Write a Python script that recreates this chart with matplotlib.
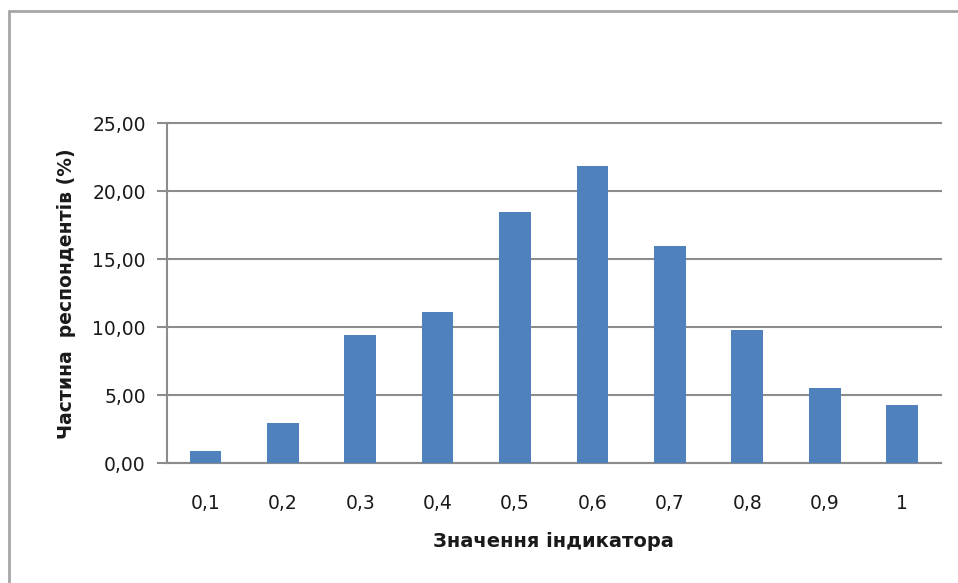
import numpy as np
import matplotlib.pyplot as plt
from matplotlib.patches import Rectangle

# Share of respondents by indicator value
categories = ['0,1', '0,2', '0,3', '0,4', '0,5', '0,6', '0,7', '0,8', '0,9', '1']
shares = [0.93, 3.00, 9.46, 11.10, 18.46, 21.84, 15.96, 9.78, 5.51, 4.31]
y_ticks = [0, 5, 10, 15, 20, 25]

bar_color = '#4F81BD'
grid_color = '#8c8c8c'
text_color = '#1a1a1a'

plt.rcParams['font.family'] = ['DejaVu Sans']

fig = plt.figure(figsize=(9.58, 5.83), dpi=100)
ax = fig.add_axes([0.174, 0.2053, 0.808, 0.5832])

x = np.arange(len(categories))
ax.bar(x, shares, width=0.41, color=bar_color, zorder=3)

ax.set_xlim(-0.5, len(categories) - 0.5)
ax.set_ylim(0, 25)
ax.set_yticks(y_ticks)
ax.set_yticklabels([f'{v:.2f}'.replace('.', ',') for v in y_ticks])
ax.set_xticks(x)
ax.set_xticklabels(categories)

ax.yaxis.grid(True, color=grid_color, linewidth=1.5, zorder=0)
for line in ax.get_ygridlines():
    line.set_clip_on(False)
ax.set_axisbelow(True)
for side in ['top', 'right']:
    ax.spines[side].set_visible(False)
for side in ['left', 'bottom']:
    ax.spines[side].set_color(grid_color)
    ax.spines[side].set_linewidth(1.5)

ax.tick_params(axis='y', direction='out', length=7, width=1.5, color=grid_color,
               labelsize=13.5, labelcolor=text_color, pad=8)
ax.tick_params(axis='x', length=0, labelsize=13.5, labelcolor=text_color, pad=22)

ax.set_xlabel('Значення індикатора', fontsize=14, fontweight='bold',
              color=text_color, labelpad=14)
ax.set_ylabel('Частина  респондентів (%)', fontsize=13.5, fontweight='bold',
              color=text_color, labelpad=12)

# chart frame
fig.patches.append(Rectangle((8.5 / 958, -0.1), 1.2, 1 - 11.5 / 583 + 0.1,
                             transform=fig.transFigure, fill=False,
                             edgecolor='#a6a6a6', linewidth=2))

fig.savefig('out.png', dpi=100)
